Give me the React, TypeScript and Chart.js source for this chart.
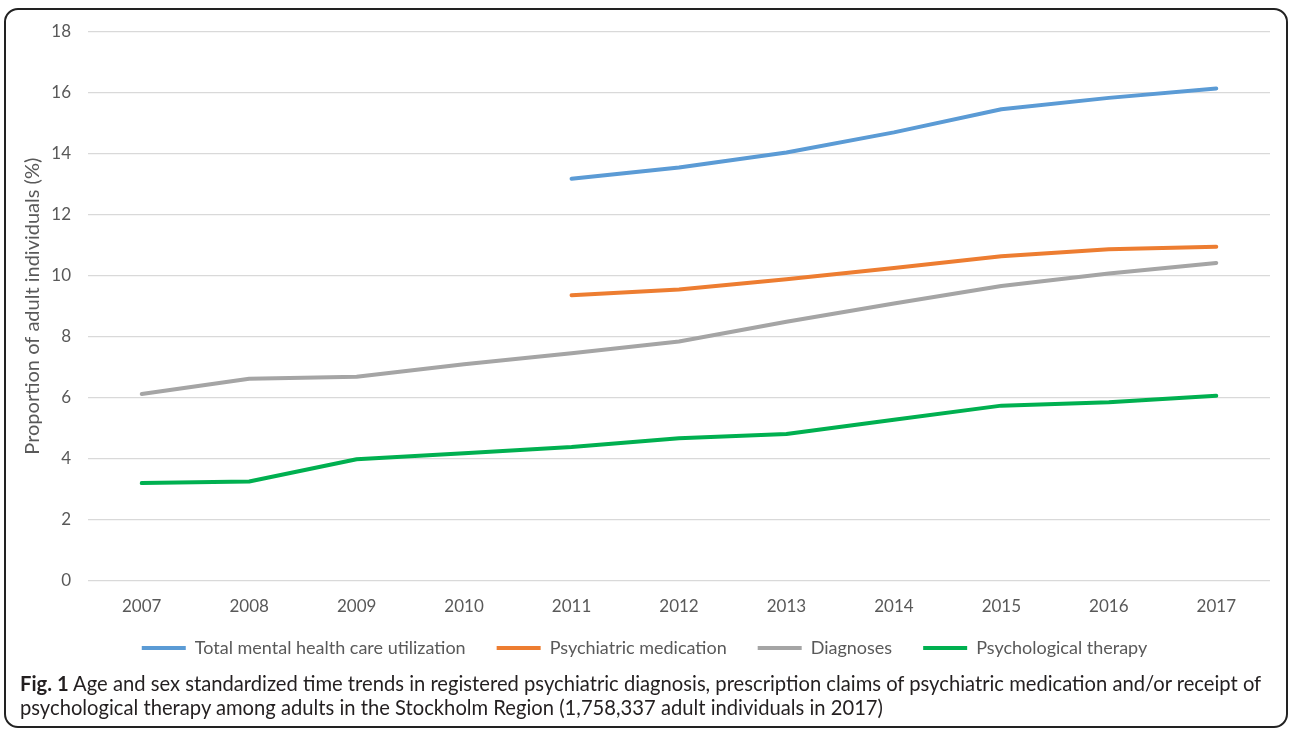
import React, { useEffect, useRef } from "react";
import { Chart, registerables } from "chart.js";

Chart.register(...registerables);

const years = ["2007", "2008", "2009", "2010", "2011", "2012", "2013", "2014", "2015", "2016", "2017"];
const totalUtilization = [null, null, null, null, 13.18, 13.55, 14.04, 14.7, 15.46, 15.83, 16.14];
const psychiatricMedication = [null, null, null, null, 9.36, 9.55, 9.88, 10.25, 10.64, 10.87, 10.95];
const diagnoses = [6.12, 6.62, 6.69, 7.1, 7.46, 7.84, 8.49, 9.09, 9.66, 10.07, 10.42];
const psychologicalTherapy = [3.2, 3.25, 3.98, 4.18, 4.38, 4.67, 4.81, 5.28, 5.74, 5.85, 6.06];
const seriesNames = ["Total mental health care utilization", "Psychiatric medication", "Diagnoses", "Psychological therapy"];
const seriesColors = ["#5B9BD5", "#ED7D31", "#A5A5A5", "#00B050"];
const yAxisTitle = "Proportion of adult individuals (%)";

const FONT = "Lato, 'Open Sans', sans-serif";
const TEXT = "#595959";

// keep the x tick labels from being clipped by the (deliberately short) x-axis box
const unclipXLabels = {
  id: "unclipXLabels",
  afterLayout(chart: any) {
    const s = chart.scales.x;
    if (s) s.bottom = s.top + 45;
  },
};

export default function App() {
  const canvasRef = useRef<HTMLCanvasElement | null>(null);

  useEffect(() => {
    if (!canvasRef.current) return;
    const values = [totalUtilization, psychiatricMedication, diagnoses, psychologicalTherapy];
    const chart = new Chart(canvasRef.current, {
      type: "line",
      data: {
        labels: years,
        datasets: values.map((v, i) => ({
          label: seriesNames[i],
          data: v,
          borderColor: seriesColors[i],
          backgroundColor: seriesColors[i],
          borderWidth: 4,
          borderCapStyle: "round",
          borderJoinStyle: "round",
          pointRadius: 0,
          pointHoverRadius: 0,
          tension: 0,
          spanGaps: false,
        })),
      },
      plugins: [unclipXLabels],
      options: {
        responsive: false,
        animation: false,
        layout: { padding: { left: 13, right: 16, top: 21.7, bottom: 8 } },
        plugins: {
          tooltip: { enabled: false },
          legend: {
            position: "bottom",
            align: "center",
            labels: {
              usePointStyle: true,
              pointStyle: "line",
              pointStyleWidth: 44,
              padding: 31,
              color: TEXT,
              font: { family: FONT, size: 18 },
            },
          },
        },
        scales: {
          x: {
            offset: true,
            grid: { display: false, drawTicks: false },
            border: { display: false },
            ticks: { color: TEXT, font: { family: FONT, size: 17 }, padding: 15.7, maxRotation: 0 },
            afterFit: (scale: any) => {
              scale.height = 27.3;
            },
          },
          y: {
            min: 0,
            max: 18,
            grid: {
              color: "#D9D9D9",
              lineWidth: 1.3,
              drawTicks: true,
              tickLength: 17,
              tickColor: "rgba(0,0,0,0)",
            },
            border: { display: false },
            ticks: { stepSize: 2, color: TEXT, font: { family: FONT, size: 17 }, padding: 0 },
            title: {
              display: true,
              text: yAxisTitle,
              color: TEXT,
              font: { family: FONT, size: 20 },
              padding: { top: 2, bottom: 0 },
            },
            afterFit: (scale: any) => {
              scale.width = 69;
            },
          },
        },
      },
    } as any);
    return () => chart.destroy();
  }, []);

  return (
    <div
      style={{
        position: "absolute",
        left: 4,
        top: 8,
        width: 1284,
        height: 720,
        border: "2px solid #222",
        borderRadius: 14,
        boxSizing: "border-box",
        background: "#fff",
        overflow: "hidden",
      }}
    >
      <canvas ref={canvasRef} width={1280} height={665} style={{ display: "block", position: "absolute", left: 0, top: 0 }} />
      <div
        style={{
          position: "absolute",
          left: 14,
          top: 661,
          fontFamily: FONT,
          fontSize: 20.2,
          lineHeight: "24px",
          color: "#231F20",
          whiteSpace: "nowrap",
        }}
      >
        <b>Fig. 1</b> Age and sex standardized time trends in registered psychiatric diagnosis, prescription claims of psychiatric medication and/or receipt of
        <br />
        psychological therapy among adults in the Stockholm Region (1,758,337 adult individuals in 2017)
      </div>
    </div>
  );
}
